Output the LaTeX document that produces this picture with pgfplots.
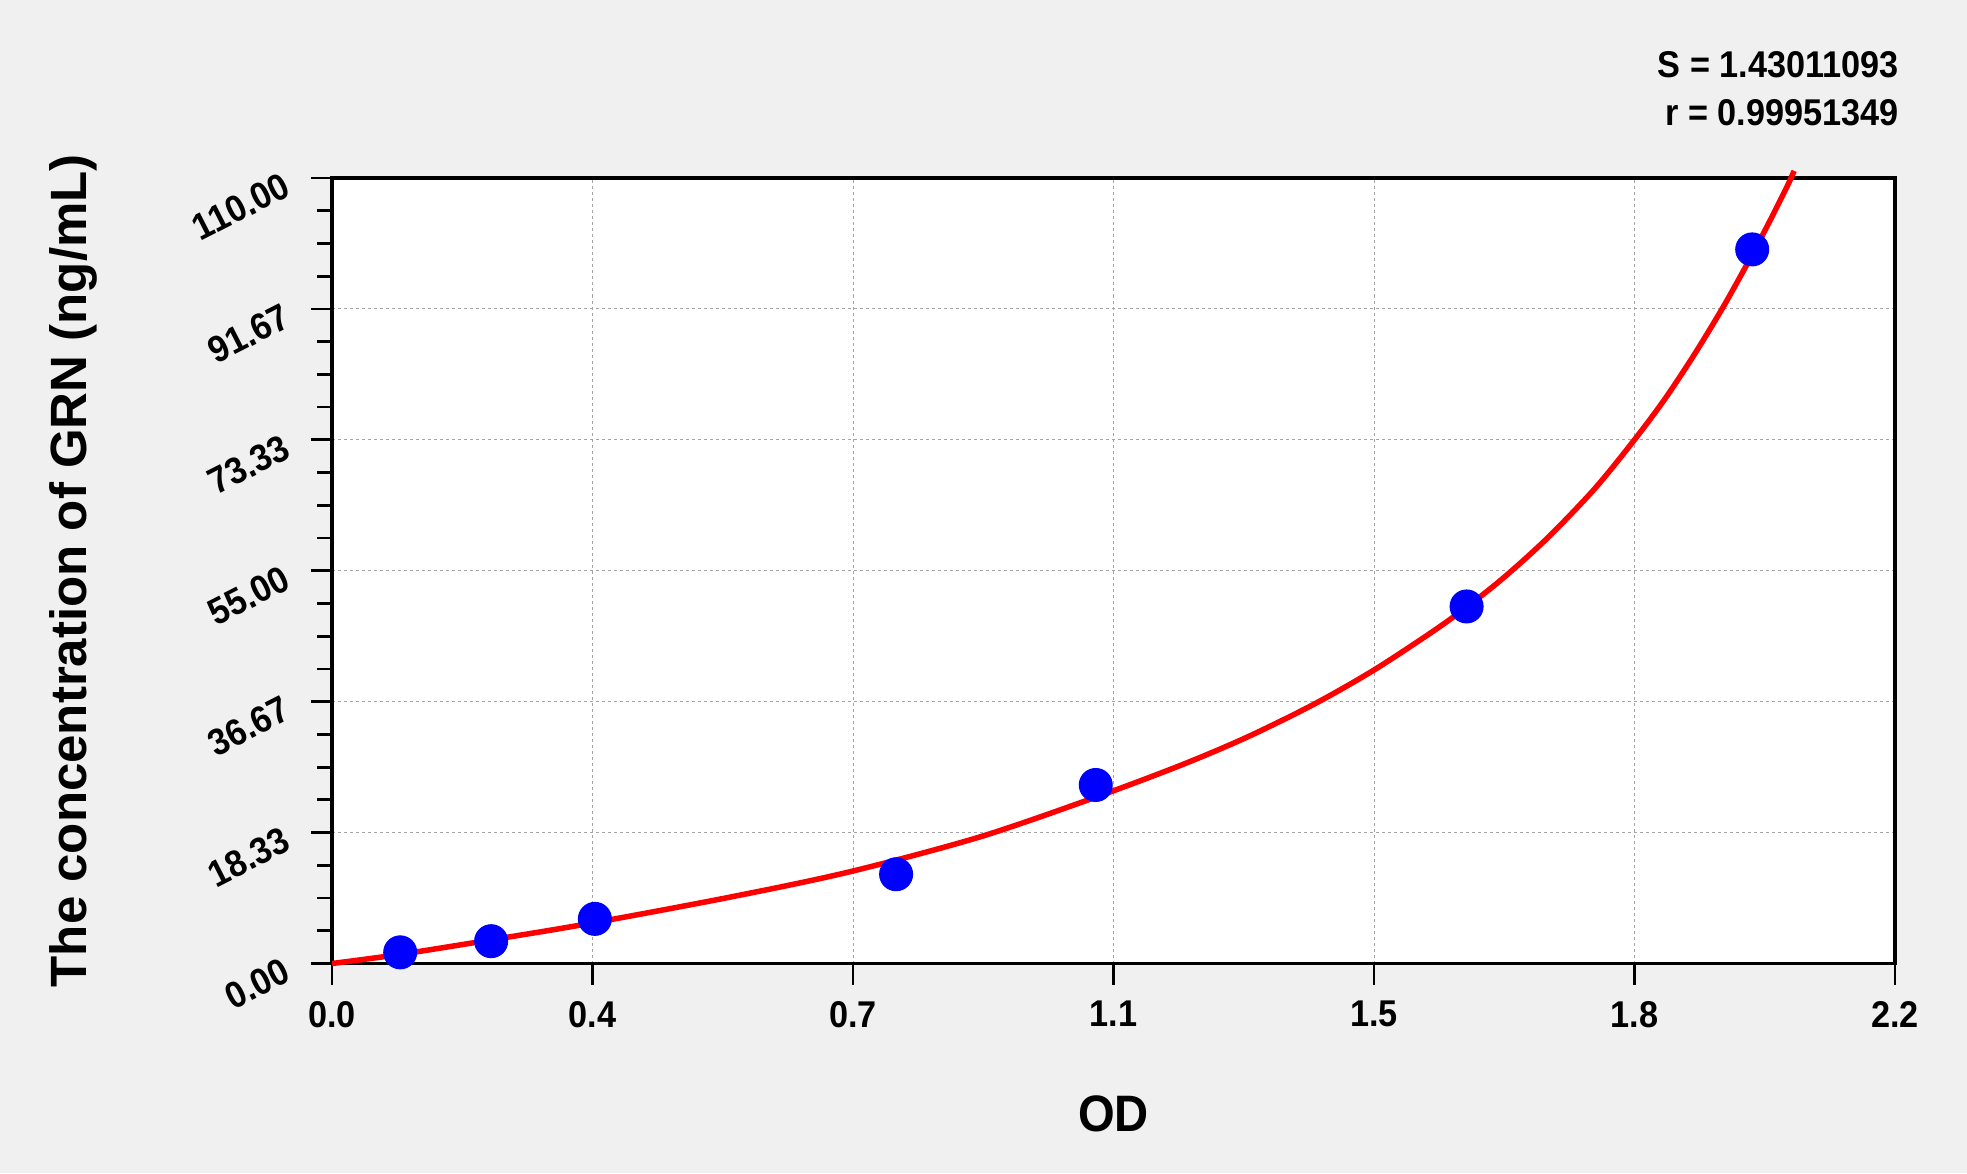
\documentclass[border=0pt]{standalone}
\usepackage{fontspec}
\setmainfont{Liberation Sans}[FakeStretch=0.92]
\newfontfamily\ylabfont{Liberation Sans}
\usepackage{pgfplots}
\usepackage{pgfplotstable}
\pgfplotsset{compat=1.18}

\definecolor{bggray}{RGB}{240,240,240}
\definecolor{gridgray}{RGB}{165,165,165}

% standards: OD vs concentration
\pgfplotstableread{
od    conc
0.096 1.5625
0.224 3.125
0.370 6.25
0.794 12.5
1.075 25
1.597 50
1.999 100
}\standards

% fitted curve
\pgfplotstableread{
od     conc
0.000  0.00
0.094  1.25
0.2235 3.30
0.365  5.65
0.563  9.35
0.729  12.85
0.911  17.70
1.0725 23.20
1.1944 27.75
1.288  31.70
1.382  36.30
1.465  41.00
1.5465 46.30
1.597  49.90
1.650  54.10
1.711  59.60
1.7765 66.40
1.8306 73.00
1.875  78.90
1.917  85.20
1.955  91.40
1.980  95.80
2.004  100.20
2.028  104.80
2.049  109.00
2.058  111.00
}\fitcurve

\begin{document}
\begin{tikzpicture}
\fill[bggray] (0,0) rectangle (786.8pt,469.2pt);
\begin{axis}[
  at={(132.8pt,83.8pt)}, anchor=south west,
  width=625.2pt, height=314.2pt, scale only axis,
  xmin=0, xmax=2.2, ymin=0, ymax=110,
  axis background/.style={fill=white},
  axis line style={line width=1.4pt},
  tick pos=left, tick align=outside,
  major tick length=8.5pt, minor tick length=6pt,
  every tick/.style={black, line width=1.1pt},
  xtick={0,0.366667,0.733333,1.1,1.466667,1.833333,2.2},
  xticklabels={0.0,0.4,0.7,1.1,1.5,1.8,2.2},
  ytick={0,18.33333,36.66667,55,73.33333,91.66667,110},
  yticklabels={0.00,18.33,36.67,55.00,73.33,91.67,110.00},
  minor x tick num=3, minor y tick num=3,
  grid=major,
  major grid style={gridgray, line width=0.4pt, dash pattern=on 1.2pt off 1.2pt},
  ticklabel style={font=\fontsize{14.9}{16}\selectfont\bfseries},
  xticklabel style={yshift=-3pt},
  yticklabel style={rotate=27, anchor=east, xshift=-6pt, yshift=2.5pt},
  xlabel={OD},
  xlabel style={at={(axis description cs:0.5,-0.2142)}, anchor=base,
    font=\fontsize{20.5}{22}\selectfont\bfseries},
  ylabel={The concentration of GRN (ng/mL)},
  ylabel style={at={(axis description cs:-0.1568,0.5)}, anchor=base,
    font=\ylabfont\fontsize{20.4}{22}\selectfont\bfseries},
  clip=false,
]
\addplot[only marks, mark=*, mark size=6.6pt, color=blue, fill=blue] table[x=od, y=conc] {\standards};
\addplot[red, line width=2.2pt, smooth] table[x=od, y=conc] {\fitcurve};
\end{axis}
\node[anchor=base east, inner sep=0pt, font=\fontsize{14.9}{16}\selectfont\bfseries] at (759.7pt,438pt) {S = 1.43011093};
\node[anchor=base east, inner sep=0pt, font=\fontsize{14.9}{16}\selectfont\bfseries] at (759.7pt,418.8pt) {r = 0.99951349};
\end{tikzpicture}
\end{document}
